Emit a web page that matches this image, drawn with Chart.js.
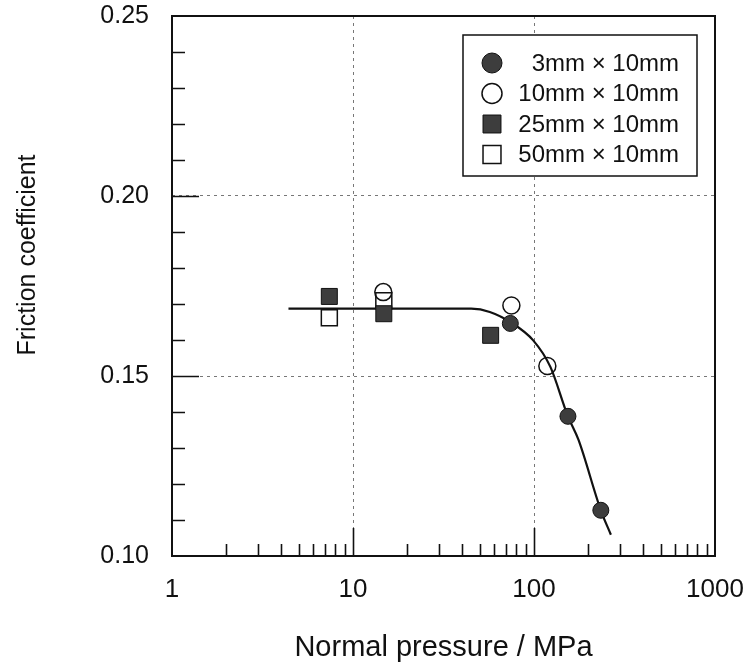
<!DOCTYPE html>
<html>
<head>
<meta charset="utf-8">
<script src="https://cdn.jsdelivr.net/npm/chart.js@4/dist/chart.umd.min.js"></script>
<style>
  html, body { margin: 0; padding: 0; background: #fff; }
  #wrap { width: 749px; height: 671px; position: relative; }
</style>
</head>
<body>
<div id="wrap"><canvas id="frictionChart"></canvas></div>
<script>
const seriesNames = ['3mm × 10mm', '10mm × 10mm', '25mm × 10mm', '50mm × 10mm'];

const pressure3 = [74, 154, 234];
const friction3 = [0.1646, 0.1388, 0.1127];

const pressure10 = [14.7, 75, 118.5];
const friction10 = [0.1733, 0.1696, 0.1528];

const pressure25 = [7.4, 14.8, 57.6];
const friction25 = [0.1721, 0.1673, 0.1613];

const pressure50 = [7.4, 14.8];
const friction50 = [0.1662, 0.1709];

// fitted trend line
const fitPressure = [4.4, 45, 57, 75, 99, 123, 154, 176, 234, 266];
const fitFriction = [0.1687, 0.1687, 0.1678, 0.1648, 0.1599, 0.1526, 0.1388, 0.1323, 0.1127, 0.1059];

const xTicks = [1, 10, 100, 1000];
const yTicks = [0.10, 0.15, 0.20, 0.25];

const FONT = "'Liberation Sans', Arial, Helvetica, sans-serif";
const INK = '#111';
const DARK = '#3d3d3d';

function toPoints(xs, ys) {
  return xs.map((v, i) => ({ x: v, y: ys[i] }));
}

// frame and inward tick marks (major + minor)
const frameAndTicks = {
  id: 'frameAndTicks',
  beforeDatasetsDraw(chart) {
    const { ctx, chartArea: a, scales: { x, y } } = chart;
    ctx.save();
    ctx.strokeStyle = INK;
    ctx.lineWidth = 1.6;
    ctx.beginPath();
    for (let d = 1; d < 1000; d *= 10) {
      for (let k = 2; k <= 9; k++) {
        const px = Math.round(x.getPixelForValue(d * k)) + 0.5;
        ctx.moveTo(px, a.bottom);
        ctx.lineTo(px, a.bottom - 12);
      }
    }
    xTicks.slice(1, -1).forEach(v => {
      const px = Math.round(x.getPixelForValue(v)) + 0.5;
      ctx.moveTo(px, a.bottom);
      ctx.lineTo(px, a.bottom - 28);
    });
    for (let i = 11; i < 25; i++) {
      const v = i / 100;
      const major = yTicks.some(t => Math.abs(t - v) < 1e-9);
      const py = Math.round(y.getPixelForValue(v)) + 0.5;
      ctx.moveTo(a.left, py);
      ctx.lineTo(a.left + (major ? 27 : 13), py);
    }
    ctx.stroke();
    ctx.lineWidth = 2;
    ctx.strokeRect(a.left, a.top, a.right - a.left, a.bottom - a.top);
    ctx.restore();
  },
  afterDraw(chart) {
    const { ctx, chartArea: a } = chart;
    ctx.save();
    ctx.translate(28, (a.top + a.bottom) / 2 - 31);
    ctx.rotate(-Math.PI / 2);
    ctx.fillStyle = INK;
    ctx.font = '25px ' + FONT;
    ctx.textAlign = 'center';
    ctx.textBaseline = 'middle';
    ctx.fillText('Friction coefficient', 0, 0);
    ctx.restore();
  }
};

// boxed legend in the upper right of the plot
const boxLegend = {
  id: 'boxLegend',
  afterDraw(chart) {
    const { ctx, chartArea: a } = chart;
    const left = a.right - 252;
    const top = a.top + 19;
    const w = 234, h = 141;
    ctx.save();
    ctx.fillStyle = '#fff';
    ctx.fillRect(left, top, w, h);
    ctx.strokeStyle = INK;
    ctx.lineWidth = 1.5;
    ctx.strokeRect(left, top, w, h);
    ctx.font = '24px ' + FONT;
    ctx.textAlign = 'right';
    ctx.textBaseline = 'middle';
    seriesNames.forEach((name, i) => {
      const ds = chart.data.datasets[i];
      const cy = top + 28 + i * 30.5;
      const cx = left + 29;
      ctx.fillStyle = ds.backgroundColor;
      ctx.strokeStyle = ds.borderColor;
      ctx.lineWidth = ds.borderWidth;
      Chart.helpers.drawPoint(ctx, {
        pointStyle: ds.pointStyle,
        radius: ds.pointStyle === 'rect' ? 12.7 : 10,
        rotation: 0,
        borderWidth: ds.borderWidth
      }, cx, cy);
      ctx.fillStyle = INK;
      ctx.fillText(name, left + 216, cy + 1);
    });
    ctx.restore();
  }
};

// keep the plot box where the layout padding puts it
function noScalePadding(s) {
  s.paddingTop = 0;
  s.paddingBottom = 0;
  s.paddingLeft = 0;
  s.paddingRight = 0;
}

const ctx = document.getElementById('frictionChart');

new Chart(ctx, {
  type: 'scatter',
  data: {
    datasets: [
      {
        label: seriesNames[0],
        data: toPoints(pressure3, friction3),
        pointStyle: 'circle',
        pointRadius: 8,
        backgroundColor: DARK,
        borderColor: INK,
        borderWidth: 1,
        order: 3
      },
      {
        label: seriesNames[1],
        data: toPoints(pressure10, friction10),
        pointStyle: 'circle',
        pointRadius: 8.5,
        backgroundColor: 'rgba(0,0,0,0)',
        borderColor: INK,
        borderWidth: 1.5,
        order: 2
      },
      {
        label: seriesNames[2],
        data: toPoints(pressure25, friction25),
        pointStyle: 'rect',
        pointRadius: 11.3,
        backgroundColor: DARK,
        borderColor: INK,
        borderWidth: 1,
        order: 0
      },
      {
        label: seriesNames[3],
        data: toPoints(pressure50, friction50),
        pointStyle: 'rect',
        pointRadius: 11.3,
        backgroundColor: 'rgba(0,0,0,0)',
        borderColor: INK,
        borderWidth: 1.5,
        order: 1
      },
      {
        label: 'fit',
        data: toPoints(fitPressure, fitFriction),
        showLine: true,
        pointRadius: 0,
        borderColor: INK,
        borderWidth: 2.2,
        cubicInterpolationMode: 'monotone',
        fill: false,
        order: 10
      }
    ]
  },
  options: {
    responsive: true,
    maintainAspectRatio: false,
    animation: false,
    layout: { padding: { top: 16, right: 34, left: 0, bottom: 0 } },
    plugins: {
      legend: { display: false },
      tooltip: { enabled: false }
    },
    scales: {
      x: {
        type: 'logarithmic',
        min: 1,
        max: 1000,
        afterBuildTicks: s => { s.ticks = xTicks.map(v => ({ value: v })); },
        afterFit: s => { s.height = 115; noScalePadding(s); },
        ticks: {
          color: INK,
          padding: 18,
          maxRotation: 0,
          autoSkip: false,
          font: { family: FONT, size: 26 },
          callback: v => String(v)
        },
        grid: {
          drawTicks: false,
          lineWidth: 1,
          color: c => (c.tick && (c.tick.value === 10 || c.tick.value === 100)) ? '#777' : 'rgba(0,0,0,0)'
        },
        border: { display: false, dash: [3, 4] },
        title: {
          display: true,
          text: 'Normal pressure / MPa',
          color: INK,
          font: { family: FONT, size: 29 },
          padding: { top: 0, bottom: 6 }
        }
      },
      y: {
        min: 0.10,
        max: 0.25,
        afterBuildTicks: s => { s.ticks = yTicks.map(v => ({ value: v })); },
        afterFit: s => { s.width = 172; noScalePadding(s); },
        ticks: {
          color: INK,
          padding: 23,
          font: { family: FONT, size: 25 },
          callback: v => Number(v).toFixed(2)
        },
        grid: {
          drawTicks: false,
          lineWidth: 1,
          color: c => (c.tick && (Math.abs(c.tick.value - 0.15) < 1e-9 || Math.abs(c.tick.value - 0.20) < 1e-9)) ? '#777' : 'rgba(0,0,0,0)'
        },
        border: { display: false, dash: [3, 4] }
      }
    }
  },
  plugins: [frameAndTicks, boxLegend]
});
</script>
</body>
</html>
